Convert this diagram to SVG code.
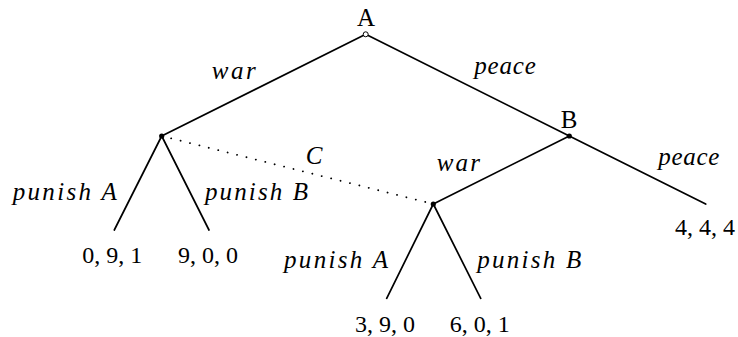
<svg xmlns="http://www.w3.org/2000/svg" width="738" height="337" viewBox="0 0 738 337">
<style>
  .edge { stroke: #000; stroke-width: 1.7; fill: none; stroke-linecap: round; }
  .info { stroke: #000; stroke-width: 1.8; fill: none; stroke-dasharray: 0.1 9.6; stroke-linecap: round; }
  .dot { fill: #000; }
  .root { fill: #fff; stroke: #000; stroke-width: 1; }
  text { fill: #000; }
  .rm { font-family: "Liberation Serif", "Times New Roman", serif; font-size: 25px; }
  .it { font-family: "Liberation Serif", "Times New Roman", serif; font-size: 25px; font-style: italic; }
  .num { font-family: "Liberation Serif", "Times New Roman", serif; font-size: 24px; text-anchor: middle; }
</style>
<rect width="738" height="337" fill="#fff"/>
<g id="connectors">
  <line class="edge" x1="365.7" y1="34.3" x2="161.7" y2="136"/>
  <line class="edge" x1="365.7" y1="34.3" x2="569.3" y2="136"/>
  <line class="edge" x1="161.7" y1="136" x2="114.3" y2="230"/>
  <line class="edge" x1="161.7" y1="136" x2="209" y2="230"/>
  <line class="edge" x1="569.3" y1="136" x2="433.3" y2="204"/>
  <line class="edge" x1="569.3" y1="136" x2="705.7" y2="204"/>
  <line class="edge" x1="433.3" y1="204" x2="386.7" y2="298.3"/>
  <line class="edge" x1="433.3" y1="204" x2="480.7" y2="298.3"/>
  <line class="info" x1="161.7" y1="136" x2="433.3" y2="204"/>
  <text class="it" x="211.7" y="79" textLength="44" lengthAdjust="spacing">war</text>
  <text class="it" x="474.3" y="74" textLength="61.5" lengthAdjust="spacing">peace</text>
  <text class="it" x="12.7" y="200" textLength="104" lengthAdjust="spacing">punish A</text>
  <text class="it" x="205" y="199.5" textLength="103" lengthAdjust="spacing">punish B</text>
  <text class="it" x="436.7" y="171" textLength="43.3" lengthAdjust="spacing">war</text>
  <text class="it" x="658.3" y="165" textLength="61" lengthAdjust="spacing">peace</text>
  <text class="it" x="284" y="268.3" textLength="104" lengthAdjust="spacing">punish A</text>
  <text class="it" x="477.3" y="268" textLength="104" lengthAdjust="spacing">punish B</text>
</g>
<g id="node-A">
  <circle class="root" cx="365.7" cy="34.3" r="2.5"/>
  <text class="rm" x="366" y="26" text-anchor="middle">A</text>
</g>
<g id="node-A-war">
  <circle class="dot" cx="161.7" cy="136" r="2.6"/>
</g>
<g id="node-B">
  <circle class="dot" cx="569.3" cy="136" r="2.6"/>
  <text class="rm" x="569.2" y="128" text-anchor="middle">B</text>
</g>
<g id="node-B-war">
  <circle class="dot" cx="433.3" cy="204" r="2.6"/>
</g>
<g id="info-set-C">
  <text class="it" x="305.7" y="164">C</text>
</g>
<g id="leaf-1"><text class="num" x="112.2" y="263.3">0, 9, 1</text></g>
<g id="leaf-2"><text class="num" x="208" y="263.3">9, 0, 0</text></g>
<g id="leaf-3"><text class="num" x="385" y="331.7">3, 9, 0</text></g>
<g id="leaf-4"><text class="num" x="479.7" y="331.7">6, 0, 1</text></g>
<g id="leaf-5"><text class="num" x="705" y="235">4, 4, 4</text></g>
</svg>
